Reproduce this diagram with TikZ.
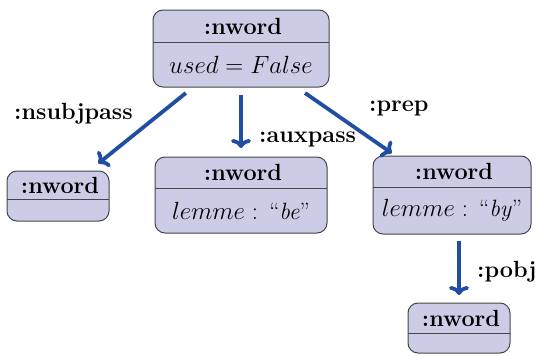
\documentclass[tikz,border=0pt]{standalone}
\usetikzlibrary{arrows.meta}
\definecolor{boxfill}{RGB}{204,204,230}
\definecolor{boxline}{RGB}{70,70,75}
\definecolor{arrowblue}{RGB}{33,78,163}
\newcommand\umlbox[8]{%
  \node[ubox, minimum width={#4-#2}, minimum height={#5-#3}] (#1) at ({(#2+#4)/2},{(#3+#5)/2}) {};
  \draw[divline] (#1.west |- 0,#6) -- (#1.east |- 0,#6);
  \node[utext] (#1-t) at ({(#2+#4)/2+2},{(#3+#6)/2}) {\bfseries #7};
  \node[atext] (#1-a) at ({(#2+#4)/2},{(#6+#5)/2}) {#8};
}
\begin{document}
\begin{tikzpicture}[x=1pt,y=-1pt,
  ubox/.style={draw=boxline, fill=boxfill, line width=1pt, rounded corners=10pt, inner sep=0pt, outer sep=0pt},
  divline/.style={draw=boxline, line width=1pt},
  utext/.style={inner sep=0pt, font=\fontsize{23.4}{28}\selectfont},
  atext/.style={inner sep=0pt, font=\fontsize{23.6}{28}\selectfont},
  lab/.style={inner sep=0pt, anchor=west, font=\fontsize{23.4}{28}\selectfont\bfseries},
  arr/.style={draw=arrowblue, line width=3.8pt, -{Computer Modern Rightarrow[length=9pt,width=20pt]}}]
\useasboundingbox (0,0) rectangle (539,356);
\umlbox{top}{153}{10}{329}{87}{42}{:nword}{$used = False$}
\umlbox{left}{7}{171}{109}{221}{199}{:nword}{}
\umlbox{mid}{155}{157}{327}{233}{188}{:nword}{$lemme : \,\mbox{\textup{``}\textit{be}\textup{''}}$}
\umlbox{right}{373}{156}{531}{234}{187}{:nword}{$lemme : \,\mbox{\textup{``}\textit{by}\textup{''}}$}
\umlbox{bot}{408}{303}{510}{353}{333}{:nword}{}
\draw[arr, shorten <=9.6pt, shorten >=12pt] (top) -- (left);
\draw[arr, shorten <=8pt, shorten >=9pt] (top) -- (mid);
\draw[arr, shorten <=10.5pt, shorten >=5pt] (top) -- (right);
\draw[arr, shorten <=7pt, shorten >=8pt] (right.south -| bot.north) -- (bot.north);
\node[lab] (l1) at (14,114) {:nsubjpass};
\node[lab] (l2) at (259,139) {:auxpass};
\node[lab] (l3) at (369,108) {:prep};
\node[lab] (l4) at (477,272) {:pobj};
\end{tikzpicture}
\end{document}
